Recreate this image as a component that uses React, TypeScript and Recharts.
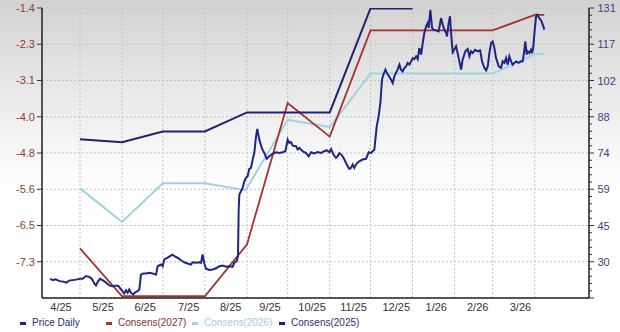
import React from "react";
import { LineChart, Line, XAxis, YAxis, CartesianGrid } from "recharts";

// x values are days since 2025-04-01
const monthStarts = [30, 61, 91, 122, 153, 183, 214, 244, 275, 306, 334, 365];
const monthLabelDays = [16, 47, 78, 110, 141, 170, 201, 231.5, 263, 292.5, 323, 354.5];
const monthLabels = ["4/25", "5/25", "6/25", "7/25", "8/25", "9/25", "10/25", "11/25", "12/25", "1/26", "2/26", "3/26"];

const leftTicks = [-1.44, -2.28, -3.12, -3.96, -4.8, -5.64, -6.48, -7.32];
const leftDomain = [-8.16, -1.44];
const rightMajorLabels = [131, 117, 102, 88, 74, 59, 45, 30];
const rightDomain = [16, 131.2];
const xDomain = [2, 405];

const consens2025: [number, number][] = [
  [30, -4.48], [61, -4.55], [91, -4.3], [122, -4.3], [153, -3.86], [214, -3.86], [244, -1.45], [275, -1.45],
];
const consens2027: [number, number][] = [
  [30, -7.01], [61, -8.12], [122, -8.12], [153, -6.92], [183, -3.64], [214, -4.42], [244, -1.96], [334, -1.96], [365, -1.6], [372, -1.6],
];
const consens2026: [number, number][] = [
  [30, -5.62], [61, -6.4], [91, -5.5], [122, -5.5], [152, -5.66], [183, -4.03], [214, -4.2], [244, -2.96], [334, -2.96], [365, -2.51], [372, -2.5],
];
const priceDaily: [number, number][] = [
  [8, 23.6], [10, 23.1], [12, 23.4], [15, 22.7], [17, 22.6], [20, 22.1], [22, 22.9], [24.5, 23.1], [27, 23.3], [30, 23.6],
  [32, 23.6], [34.4, 24.7], [36.8, 24.4], [38.8, 23.6], [40.5, 21.8], [41.8, 21.0], [43.3, 22.6], [44.7, 23.6], [46.6, 23.1],
  [49.2, 22.1], [51.6, 21.0], [54, 20.7], [56.5, 21.0], [58.4, 20.7], [60.2, 19.4], [61.4, 18.6], [62.6, 17.8], [63.9, 19.1],
  [65.1, 18.1], [66.3, 19.4], [67.6, 18.1], [69.3, 17.4], [70.7, 18.3], [72.4, 18.7], [73.7, 19.4], [74.9, 25.3], [76.6, 25.7],
  [78.6, 25.7], [81.1, 26.0], [83.5, 25.7], [86, 25.3], [87.2, 28.6], [89.7, 29.3], [90.9, 28.6], [92.1, 31.3], [94.5, 32.0],
  [96.3, 32.6], [98.2, 33.2], [100.2, 32.4], [101.9, 32.0], [104.4, 31.0], [106.8, 30.2], [109.3, 29.7], [111.8, 29.3],
  [113, 30.2], [115.5, 30.0], [117.9, 30.2], [119.2, 30.0], [120.3, 33.3], [121.6, 29.7], [122.8, 27.6], [125.3, 27.1],
  [127.7, 27.3], [130.2, 27.8], [132.6, 28.6], [135.1, 28.9], [137.6, 28.4], [140, 28.6], [142.4, 28.4], [143.7, 30.0],
  [145.4, 30.6], [146.4, 32.6], [146.9, 51.1], [147.4, 57.1], [148.6, 58.4], [149.8, 59.7], [151.1, 62.4], [152.3, 63.7],
  [153.5, 64.4], [154.7, 67.3], [156, 67.7], [157.2, 71.0], [158.4, 73.6], [159.7, 80.2], [160.6, 83.2], [162.1, 78.9],
  [164.1, 75.3], [165.8, 73.6], [167.5, 71.3], [169.5, 72.3], [171.9, 73.3], [174.4, 73.9], [176.9, 73.6], [179.3, 73.9],
  [181.3, 74.3], [183, 78.9], [184.2, 77.6], [185.5, 77.9], [186.7, 76.5], [189.2, 76.3], [190.3, 75.0], [191.6, 75.6],
  [194, 74.3], [196.5, 73.6], [198.5, 72.3], [200.2, 73.9], [202.6, 73.4], [205.1, 74.0], [207.6, 73.6], [210, 74.3],
  [211.7, 74.7], [213.7, 73.9], [215, 75.2], [216.7, 73.0], [218.6, 71.7], [219.8, 72.3], [221.1, 73.6], [223.1, 72.6],
  [224.8, 71.0], [226.5, 69.0], [228.4, 67.3], [229.7, 67.7], [230.9, 69.0], [232.1, 67.7], [233.8, 69.4], [235.8, 70.3],
  [238.2, 71.0], [240.7, 71.3], [242.7, 73.9], [244.4, 73.6], [246.9, 75.0], [247.6, 78.9], [248.6, 84.2], [250, 88.2],
  [251.3, 93.5], [252.5, 102.7], [253.5, 104.7], [255, 106.7], [255.9, 105.6], [257.4, 104.3], [259.2, 102.7], [260.4, 101.4],
  [261.6, 104.0], [262.9, 105.6], [264, 106.7], [265.3, 108.7], [266.5, 106.7], [267.7, 106.0], [269, 107.4], [270.2, 108.0],
  [271.4, 109.4], [272.7, 108.7], [273.9, 110.0], [275.1, 111.3], [276.3, 110.9], [277.6, 112.0], [278.8, 110.9], [280, 115.3],
  [281.3, 112.7], [282.5, 117.3], [283.7, 121.3], [285, 123.9], [286.1, 125.2], [286.9, 123.3], [288.1, 130.5], [289.4, 123.3],
  [290.3, 122.6], [292.3, 122.3], [294.2, 121.9], [296, 127.2], [297.2, 124.6], [298.4, 122.6], [299.7, 121.3], [300.4, 119.9],
  [301.6, 125.2], [302.6, 127.9], [303.6, 119.9], [304.6, 113.6], [305.8, 114.7], [307.1, 116.0], [308.2, 113.3], [309.5, 110.0],
  [310.8, 106.7], [311.9, 110.7], [313.9, 114.0], [315.6, 114.9], [316.9, 112.0], [318.1, 114.0], [319.3, 113.3], [321.1, 114.6],
  [323, 114.0], [324.8, 114.4], [326.2, 110.0], [327.9, 107.4], [329.2, 106.4], [330.4, 108.0], [331.6, 113.3], [332.9, 117.3],
  [334, 117.9], [335.3, 115.3], [336.5, 111.3], [338.5, 108.0], [340.2, 107.4], [341.4, 110.0], [342.7, 109.4], [343.9, 111.3],
  [345.1, 108.7], [346.3, 112.0], [347.6, 110.0], [348.8, 108.7], [350, 109.4], [351.3, 110.0], [353.2, 109.4], [355, 110.0],
  [356.2, 110.0], [357.4, 114.6], [358.1, 117.9], [359.1, 112.7], [359.8, 114.0], [361.1, 113.3], [362.3, 114.6], [363.1, 113.3],
  [364, 116.0], [364.8, 121.3], [366, 127.9], [366.8, 128.5], [368.4, 127.2], [369.7, 126.3], [370.9, 124.6], [372.1, 122.6],
];

const legendItems = [
  { label: "Price Daily", color: "#1e2586", text: "#2b2f77", left: 20 },
  { label: "Consens(2027)", color: "#a8302c", text: "#8a2e2e", left: 106 },
  { label: "Consens(2026)", color: "#9fd3dd", text: "#9fcfd9", left: 192 },
  { label: "Consens(2025)", color: "#1f2370", text: "#2b2f77", left: 279 },
];

const FONT = '"Liberation Sans", Arial, sans-serif';
const W = 620;
const H = 332;

const toPts = (arr: [number, number][]) => arr.map(([d, v]) => ({ d, v }));

const rightTicks: number[] = Array.from({ length: 41 }, (_, k) => rightDomain[0] + ((rightDomain[1] - rightDomain[0]) / 40) * k);

const RightTick = (props: any) => {
  const { x, y, index } = props;
  const k = index as number;
  const major = (40 - k) % 5 === 0;
  const labelIdx = (40 - k) / 5;
  const label = major && labelIdx < rightMajorLabels.length ? String(rightMajorLabels[labelIdx]) : "";
  return (
    <g>
      <line x1={x} x2={x + (major ? 5 : 3)} y1={y} y2={y} stroke="#333" strokeWidth={1} />
      {label && (
        <text x={x + 8.5} y={y} dy={4} fill="#3f3f86" fontSize={11} fontFamily={FONT}>
          {label}
        </text>
      )}
    </g>
  );
};

export default function App() {
  return (
    <div
      style={{
        position: "absolute",
        left: 0,
        top: 0,
        width: W,
        height: H,
        background: "linear-gradient(to bottom, #d2d2d2 0%, #e4e4e4 22%, #f3f3f3 40%, #fdfdfd 55%, #ffffff 65%)",
        fontFamily: FONT,
      }}
    >
      <LineChart width={W} height={H} margin={{ top: 8, right: 0, bottom: 14, left: 0 }}>
        <CartesianGrid xAxisId="g" yAxisId="L" stroke="#c2c2c2" strokeDasharray="2 2" />
        <XAxis
          xAxisId="m"
          type="number"
          dataKey="d"
          domain={xDomain}
          allowDataOverflow
          ticks={monthLabelDays}
          interval={0}
          tickFormatter={(v: number) => monthLabels[monthLabelDays.indexOf(v)] ?? ""}
          height={20}
          tickLine={false}
          tickSize={0}
          tickMargin={5}
          axisLine={{ stroke: "#222", strokeWidth: 1.5 }}
          tick={{ fill: "#333", fontSize: 11, fontFamily: FONT }}
        />
        <XAxis xAxisId="g" type="number" dataKey="d" domain={xDomain} allowDataOverflow ticks={monthStarts} interval={0} height={0} hide />
        <YAxis
          yAxisId="L"
          orientation="left"
          type="number"
          domain={leftDomain}
          allowDataOverflow
          ticks={leftTicks}
          interval={0}
          width={42}
          tickSize={5}
          tickMargin={2}
          tickFormatter={(v: number) => v.toFixed(1)}
          tickLine={{ stroke: "#333" }}
          axisLine={{ stroke: "#222", strokeWidth: 1.5 }}
          tick={{ fill: "#8c3a3a", fontSize: 11, fontFamily: FONT }}
        />
        <YAxis
          yAxisId="R"
          orientation="right"
          type="number"
          domain={rightDomain}
          allowDataOverflow
          ticks={rightTicks}
          interval={0}
          width={31}
          tickSize={0}
          tickMargin={0}
          tickLine={false}
          axisLine={{ stroke: "#222", strokeWidth: 1.5 }}
          tick={<RightTick />}
        />
        <Line xAxisId="m" yAxisId="L" data={toPts(consens2026)} dataKey="v" type="linear" stroke="#9fd3dd" strokeWidth={2} dot={false} isAnimationActive={false} />
        <Line xAxisId="m" yAxisId="L" data={toPts(consens2027)} dataKey="v" type="linear" stroke="#a8302c" strokeWidth={1.8} dot={false} isAnimationActive={false} />
        <Line xAxisId="m" yAxisId="L" data={toPts(consens2025)} dataKey="v" type="linear" stroke="#1f2370" strokeWidth={2} dot={false} isAnimationActive={false} />
        <Line xAxisId="m" yAxisId="R" data={toPts(priceDaily)} dataKey="v" type="linear" stroke="#1e2586" strokeWidth={2} dot={false} isAnimationActive={false} />
      </LineChart>
      {legendItems.map((it) => (
        <div
          key={it.label}
          style={{ position: "absolute", left: it.left, top: 317, display: "flex", alignItems: "center", fontSize: 10, lineHeight: "12px", whiteSpace: "nowrap" }}
        >
          <span style={{ display: "inline-block", width: 6, height: 3, background: it.color, marginRight: 6 }} />
          <span style={{ color: it.text }}>{it.label}</span>
        </div>
      ))}
    </div>
  );
}
